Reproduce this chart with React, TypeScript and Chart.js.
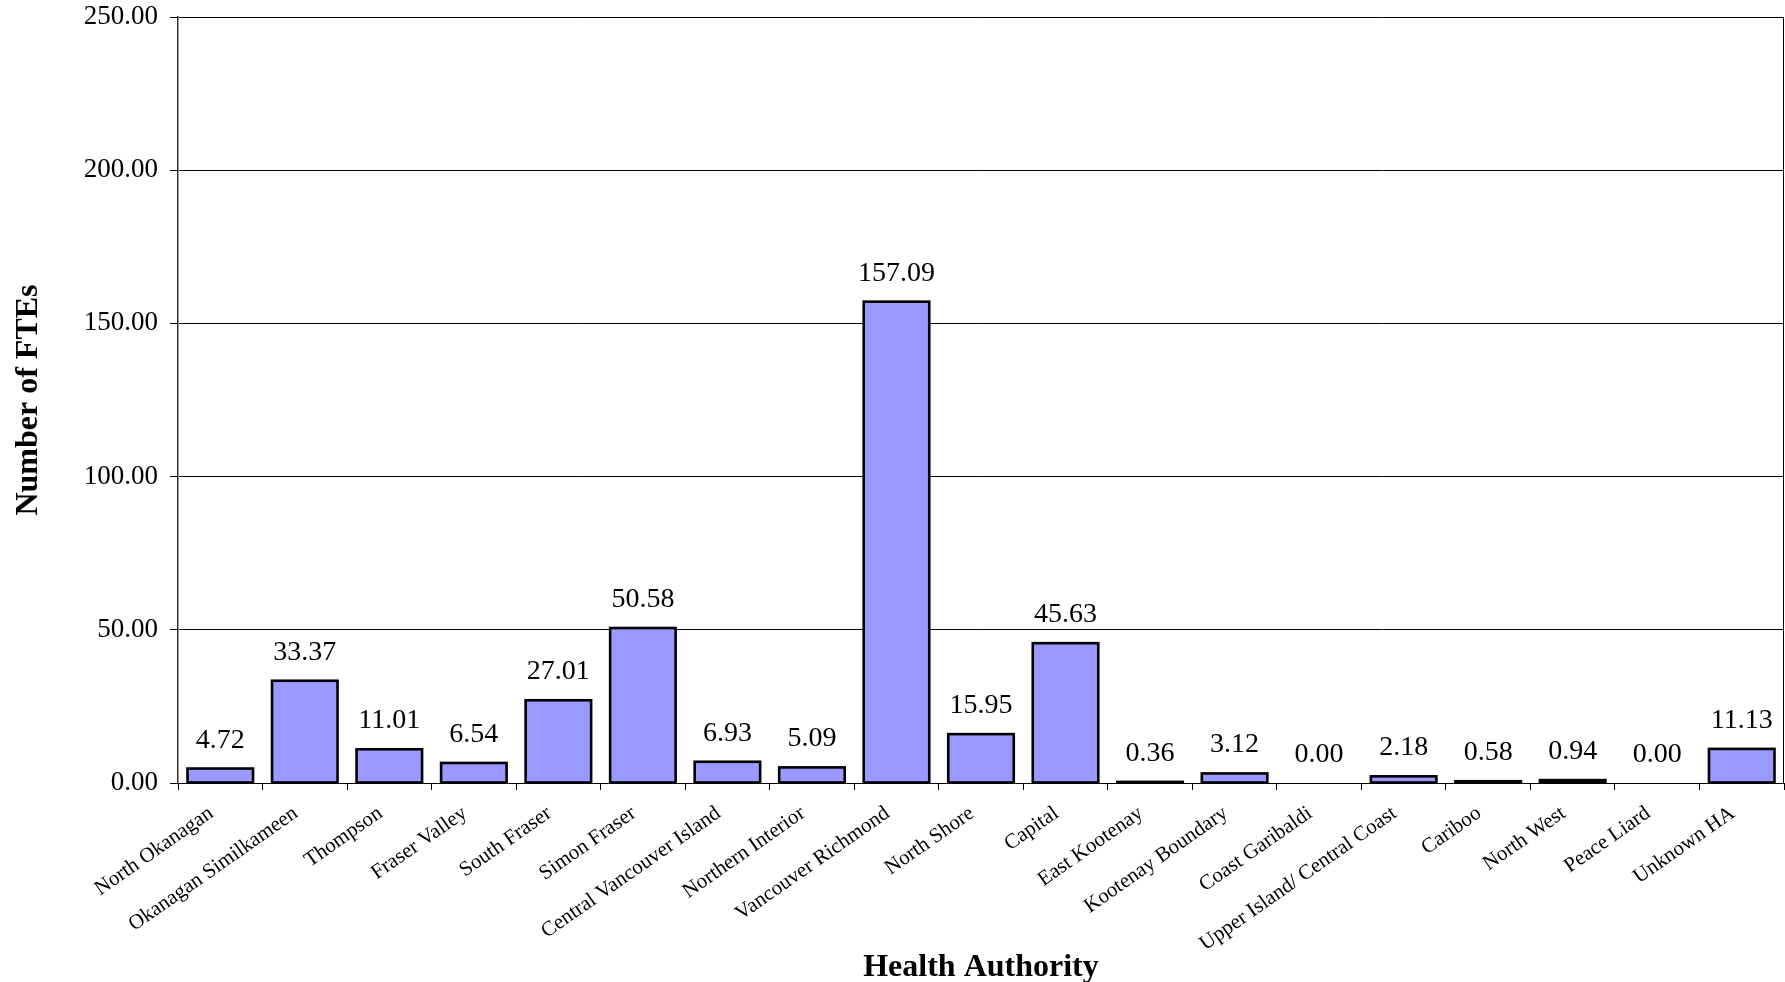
import React, { useEffect, useRef } from "react";
import { Chart, registerables } from "chart.js";

Chart.register(...registerables);

const categories = [
  "North Okanagan",
  "Okanagan Similkameen",
  "Thompson",
  "Fraser Valley",
  "South Fraser",
  "Simon Fraser",
  "Central Vancouver Island",
  "Northern Interior",
  "Vancouver Richmond",
  "North Shore",
  "Capital",
  "East Kootenay",
  "Kootenay Boundary",
  "Coast Garibaldi",
  "Upper Island/ Central Coast",
  "Cariboo",
  "North West",
  "Peace Liard",
  "Unknown HA",
];

const fteValues = [
  4.72, 33.37, 11.01, 6.54, 27.01, 50.58, 6.93, 5.09, 157.09, 15.95, 45.63,
  0.36, 3.12, 0.0, 2.18, 0.58, 0.94, 0.0, 11.13,
];

const yTicks = [0, 50, 100, 150, 200, 250];

const xTitle = "Health Authority";
const yTitle = "Number of FTEs";

const SERIF = "'Liberation Serif', 'Times New Roman', serif";

const excelBars = {
  id: "excelBars",
  afterDatasetsDraw(chart: any) {
    const { ctx, chartArea } = chart;
    const meta = chart.getDatasetMeta(0);
    const data = chart.data.datasets[0].data as number[];
    ctx.save();
    // right border of plot area
    ctx.strokeStyle = "#000";
    ctx.lineWidth = 1;
    ctx.beginPath();
    ctx.moveTo(chartArea.right - 0.5, chartArea.top);
    ctx.lineTo(chartArea.right - 0.5, chartArea.bottom);
    ctx.stroke();
    meta.data.forEach((el: any, i: number) => {
      const v = data[i];
      const left = el.x - el.width / 2;
      const top = Math.min(el.y, el.base);
      const h = Math.abs(el.base - el.y);
      if (v > 0) {
        ctx.strokeStyle = "#000";
        ctx.lineWidth = 2.6;
        ctx.strokeRect(left, top, el.width, h);
      }
      ctx.fillStyle = "#000";
      ctx.font = `28px ${SERIF}`;
      ctx.textAlign = "center";
      ctx.textBaseline = "alphabetic";
      ctx.fillText(v.toFixed(2), el.x, top - 21);
    });
    ctx.restore();
  },
};

export default function App() {
  const ref = useRef<HTMLCanvasElement | null>(null);
  useEffect(() => {
    if (!ref.current) return;
    const chart = new Chart(ref.current, {
      type: "bar",
      data: {
        labels: categories,
        datasets: [
          {
            data: fteValues,
            backgroundColor: "#9999FF",
            borderWidth: 0,
            barPercentage: 0.775,
            categoryPercentage: 1,
          },
        ],
      },
      options: {
        animation: false,
        responsive: false,
        maintainAspectRatio: false,
        layout: { padding: { top: 17, right: 1, left: 0, bottom: 0 } },
        plugins: {
          legend: { display: false },
          tooltip: { enabled: false },
        },
        scales: {
          x: {
            offset: true,
            grid: {
              offset: true,
              drawOnChartArea: false,
              drawTicks: true,
              tickLength: 7,
              color: "#000",
            },
            border: { color: "#000", width: 1 },
            ticks: {
              color: "#000",
              font: { family: SERIF, size: 21 },
              minRotation: 35,
              maxRotation: 35,
              autoSkip: false,
              padding: 11,
              labelOffset: -9,
            },
            title: {
              display: true,
              text: xTitle,
              color: "#000",
              font: { family: SERIF, size: 32, weight: "bold" },
              padding: { top: 0, bottom: -5 },
            },
            afterFit: (scale: any) => {
              scale.height = 199;
              scale.paddingLeft = 0;
              scale.paddingRight = 0;
            },
          },
          y: {
            min: 0,
            max: 250,
            afterBuildTicks: (scale: any) => {
              scale.ticks = yTicks.map((v) => ({ value: v }));
            },
            grid: {
              color: "#000",
              lineWidth: 1,
              drawTicks: true,
              tickLength: 8,
            },
            border: { color: "#333", width: 1.5 },
            ticks: {
              color: "#000",
              font: { family: SERIF, size: 27 },
              padding: 12,
              callback: (v: any) => Number(v).toFixed(2),
            },
            title: {
              display: true,
              text: yTitle,
              color: "#000",
              font: { family: SERIF, size: 32, weight: "bold" },
              padding: { top: 10, bottom: 0 },
            },
            afterFit: (scale: any) => {
              scale.width = 178;
              scale.paddingTop = 0;
              scale.paddingBottom = 0;
            },
          },
        },
      },
      plugins: [excelBars],
    });
    return () => chart.destroy();
  }, []);
  return (
    <div style={{ position: "fixed", left: 0, top: 0, width: 1785, height: 982, background: "#fff" }}>
      <canvas ref={ref} width={1785} height={982} style={{ width: 1785, height: 982 }} />
    </div>
  );
}
